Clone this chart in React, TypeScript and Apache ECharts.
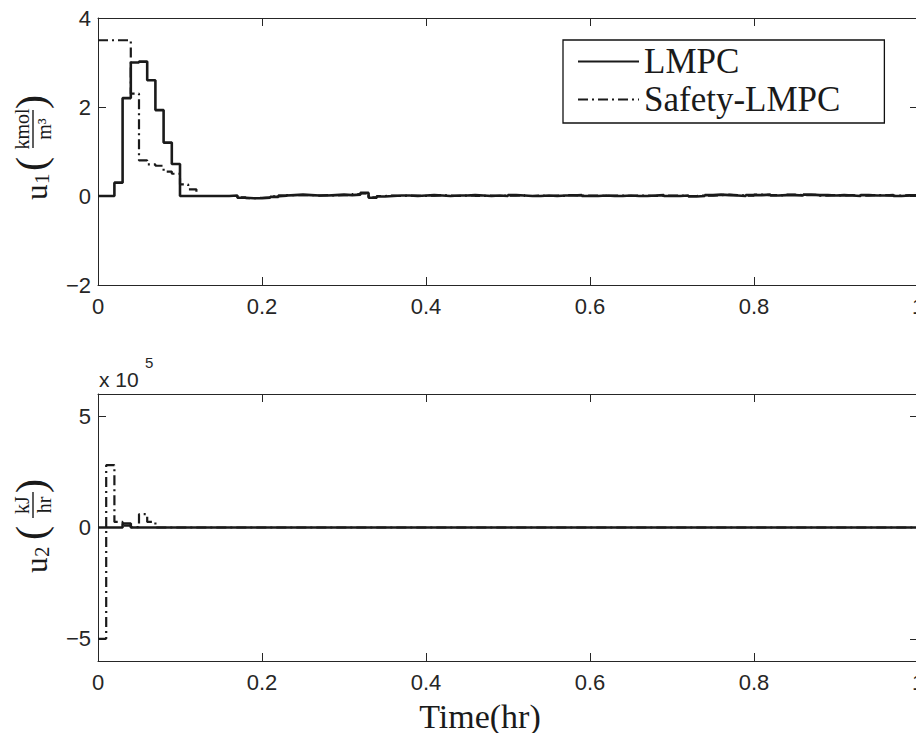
import React, { useEffect, useRef } from "react";
import * as echarts from "echarts";

// Sampling period of the zero-order-hold inputs (hr)
const SAMPLE_PERIOD = 0.01;
const X_TICKS = [0, 0.2, 0.4, 0.6, 0.8, 1];
const U1_TICKS = [-2, 0, 2, 4];
const U2_TICKS = [-500000, 0, 500000];

// u1 (kmol/m^3), one value per sampling period
const lmpcU1 = [
  0, 0, 0.3, 2.2, 3.0, 3.02, 2.6, 1.93, 1.2, 0.72,
  0, 0, 0, 0, 0, 0, 0.01, -0.04, -0.05, -0.05,
  -0.04, -0.02, 0.01, 0.02, 0.03, 0.02, 0.01, 0.01, 0.02, 0.03,
  0.02, 0.03, 0.07, -0.04, -0.01, 0.0, 0.01, 0.01, 0.0, 0.01,
  0.02, 0.01, 0.0, 0.01, 0.01, 0.02, 0.01, 0.0, 0.01, 0.0,
  0.02, 0.01, 0.0, 0.0, 0.01, 0.0, 0.01, 0.01, 0.02, 0.0,
  0.0, 0.01, 0.0, 0.0, 0.01, 0.0, 0.0, 0.01, 0.02, 0.0,
  0.0, 0.01, -0.01, 0.0, 0.02, 0.03, 0.02, 0.01, 0.0, 0.02,
  0.02, 0.03, 0.01, 0.02, 0.02, 0.01, 0.03, 0.02, 0.02, 0.01,
  0.02, 0.01, 0.0, 0.02, 0.01, 0.01, 0.02, 0.0, 0.01, 0.02,
];

const safetyU1 = [
  3.5, 3.5, 3.5, 3.5, 2.3, 0.8, 0.71, 0.68, 0.55, 0.5,
  0.26, 0.15, 0, 0, 0, 0, 0, -0.03, -0.05, -0.04,
  -0.03, -0.01, 0.0, 0.02, 0.02, 0.02, 0.01, 0.02, 0.01, 0.02,
  0.02, 0.04, 0.06, -0.03, 0.0, 0.01, 0.0, 0.01, 0.01, 0.0,
  0.01, 0.02, 0.01, 0.0, 0.01, 0.02, 0.0, 0.01, 0.0, 0.01,
  0.01, 0.02, 0.0, 0.01, 0.0, 0.01, 0.0, 0.02, 0.01, 0.01,
  0.01, 0.0, 0.01, 0.01, 0.0, 0.01, 0.01, 0.0, 0.01, 0.01,
  0.01, 0.0, 0.0, 0.01, 0.01, 0.02, 0.03, 0.02, 0.01, 0.01,
  0.03, 0.02, 0.02, 0.01, 0.03, 0.02, 0.02, 0.03, 0.01, 0.02,
  0.01, 0.02, 0.01, 0.01, 0.02, 0.02, 0.01, 0.01, 0.02, 0.01,
];

// u2 (kJ/hr), one value per sampling period
const lmpcU2 = [
  0, 0, 0, 18000, 0, 0, 0, 0, 0, 0,
  0, 0, 0, 0, 0, 0, 0, 0, 0, 0,
  0, 0, 0, 0, 0, 0, 0, 0, 0, 0,
  0, 0, 0, 0, 0, 0, 0, 0, 0, 0,
  0, 0, 0, 0, 0, 0, 0, 0, 0, 0,
  0, 0, 0, 0, 0, 0, 0, 0, 0, 0,
  0, 0, 0, 0, 0, 0, 0, 0, 0, 0,
  0, 0, 0, 0, 0, 0, 0, 0, 0, 0,
  0, 0, 0, 0, 0, 0, 0, 0, 0, 0,
  0, 0, 0, 0, 0, 0, 0, 0, 0, 0,
];

const safetyU2 = [
  -500000, 280000, 25000, 8000, 2000, 60000, 25000, 0, 0, 0,
  0, 0, 0, 0, 0, 0, 0, 0, 0, 0,
  0, 0, 0, 0, 0, 0, 0, 0, 0, 0,
  0, 0, 0, 0, 0, 0, 0, 0, 0, 0,
  0, 0, 0, 0, 0, 0, 0, 0, 0, 0,
  0, 0, 0, 0, 0, 0, 0, 0, 0, 0,
  0, 0, 0, 0, 0, 0, 0, 0, 0, 0,
  0, 0, 0, 0, 0, 0, 0, 0, 0, 0,
  0, 0, 0, 0, 0, 0, 0, 0, 0, 0,
  0, 0, 0, 0, 0, 0, 0, 0, 0, 0,
];

const SERIES_NAMES = ["LMPC", "Safety-LMPC"];

// zero-order hold: each value holds over [t_i, t_i + T); close at t = end
function holdPairs(values: number[]): [number, number][] {
  const pts: [number, number][] = values.map((v, i) => [
    Math.round(i * SAMPLE_PERIOD * 1000) / 1000,
    v,
  ]);
  pts.push([
    Math.round(values.length * SAMPLE_PERIOD * 1000) / 1000,
    values[values.length - 1],
  ]);
  return pts;
}

const INK = "#1a1a1a";
const AXIS_INK = "#262626";
const SANS = "Liberation Sans, Arial, sans-serif";
const SERIF = "Liberation Serif, Times New Roman, serif";

const minusFmt = (v: number) =>
  v < 0 ? "\u2212" + String(Math.abs(v)) : String(v);

function xAxes(gridIndex: number) {
  const common = {
    gridIndex,
    type: "value" as const,
    min: X_TICKS[0],
    max: X_TICKS[X_TICKS.length - 1],
    interval: 0.2,
    axisLine: { show: true, onZero: false, lineStyle: { color: AXIS_INK, width: 1 } },
    axisTick: { show: true, inside: true, length: 8, lineStyle: { color: AXIS_INK, width: 1 } },
    splitLine: { show: false },
  };
  return [
    {
      ...common,
      position: "bottom" as const,
      axisLabel: {
        show: true,
        margin: 10,
        fontFamily: SANS,
        fontSize: 22,
        color: AXIS_INK,
        formatter: (v: number) => String(Math.round(v * 10) / 10),
      },
    },
    { ...common, position: "top" as const, axisLabel: { show: false } },
  ];
}

function yAxes(gridIndex: number, min: number, max: number, ticks: number[], scale: number) {
  const tick = { show: true, inside: true, length: 8, lineStyle: { color: AXIS_INK, width: 1 }, customValues: ticks };
  const line = { show: true, onZero: false, lineStyle: { color: AXIS_INK, width: 1 } };
  return [
    {
      gridIndex,
      type: "value" as const,
      min,
      max,
      position: "left" as const,
      axisLine: line,
      axisTick: tick,
      splitLine: { show: false },
      axisLabel: {
        show: true,
        margin: 7,
        fontFamily: SANS,
        fontSize: 22,
        color: AXIS_INK,
        customValues: ticks,
        formatter: (v: number) => minusFmt(Math.round(v / scale)),
      },
    },
    {
      gridIndex,
      type: "value" as const,
      min,
      max,
      position: "right" as const,
      axisLine: line,
      axisTick: tick,
      splitLine: { show: false },
      axisLabel: { show: false },
    },
  ];
}

function yLabel(
  x: number,
  y: number,
  sub: string,
  num: string,
  den: string,
  parenL: number,
  fracC: number,
  fracHalf: number,
  parenR: number
) {
  const t = (text: string, lx: number, ly: number, size: number, align = "left") => ({
    type: "text",
    x: lx,
    y: ly,
    style: {
      text,
      fontFamily: SERIF,
      fontSize: size,
      fill: INK,
      align,
      verticalAlign: "middle",
    },
  });
  return {
    type: "group",
    x,
    y,
    rotation: Math.PI / 2,
    children: [
      t("u", 0, -9, 31),
      t(sub, 16, -3, 21),
      t("(", parenL, -14, 42),
      t(num, fracC, -23, 20, "center"),
      {
        type: "line",
        shape: { x1: fracC - fracHalf, y1: -12, x2: fracC + fracHalf, y2: -12 },
        style: { stroke: INK, lineWidth: 1.4 },
      },
      t(den, fracC, -1, 20, "center"),
      t(")", parenR, -14, 42),
    ],
  };
}

export default function App() {
  const ref = useRef<HTMLDivElement>(null);

  useEffect(() => {
    if (!ref.current) return;
    const chart = echarts.init(ref.current, undefined, { renderer: "svg" });

    const lineBase = {
      type: "line" as const,
      step: "end" as const,
      symbol: "none",
      showSymbol: false,
      silent: true,
      itemStyle: { color: INK },
    };
    const solid = { color: INK, width: 2.6, type: "solid" as const };
    const dashDot = { color: INK, width: 2.2, type: [10, 4, 2, 4] as number[] };

    chart.setOption({
      animation: false,
      backgroundColor: "#ffffff",
      grid: [
        { left: 98, top: 18, width: 820, height: 267 },
        { left: 98, top: 394, width: 820, height: 267 },
      ],
      xAxis: [...xAxes(0), ...xAxes(1)],
      yAxis: [
        ...yAxes(0, -2, 4, U1_TICKS, 1),
        ...yAxes(1, -600000, 600000, U2_TICKS, 100000),
      ],
      legend: {
        orient: "vertical",
        left: 563,
        top: 40,
        itemWidth: 61,
        itemHeight: 14,
        itemGap: 3,
        padding: [4, 44, 6, 14],
        borderColor: "#111",
        borderWidth: 1.3,
        backgroundColor: "#ffffff",
        selectedMode: false,
        itemStyle: { opacity: 0 },
        textStyle: { fontFamily: SERIF, fontSize: 35, color: INK, lineHeight: 35 },
        data: SERIES_NAMES,
      },
      series: [
        { ...lineBase, name: SERIES_NAMES[1], xAxisIndex: 0, yAxisIndex: 0, data: holdPairs(safetyU1), lineStyle: dashDot, z: 2 },
        { ...lineBase, name: SERIES_NAMES[0], xAxisIndex: 0, yAxisIndex: 0, data: holdPairs(lmpcU1), lineStyle: solid, z: 3 },
        { ...lineBase, name: SERIES_NAMES[1], xAxisIndex: 2, yAxisIndex: 2, data: holdPairs(safetyU2), lineStyle: dashDot, z: 2 },
        { ...lineBase, name: SERIES_NAMES[0], xAxisIndex: 2, yAxisIndex: 2, data: holdPairs(lmpcU2), lineStyle: solid, z: 3 },
      ],
      graphic: [
        yLabel(45, 200, "1", "kmol", "m\u00b3", 29, 71, 19, 91),
        yLabel(45, 573, "2", "kJ", "hr", 33, 68, 13, 80),
        {
          type: "text",
          x: 99,
          y: 379,
          style: { text: "x 10", fontFamily: SANS, fontSize: 21, fill: AXIS_INK, align: "left", verticalAlign: "middle" },
        },
        {
          type: "text",
          x: 145,
          y: 362,
          style: { text: "5", fontFamily: SANS, fontSize: 15, fill: AXIS_INK, align: "left", verticalAlign: "middle" },
        },
        {
          type: "text",
          x: 480,
          y: 716,
          style: { text: "Time(hr)", fontFamily: SERIF, fontSize: 34, fill: INK, align: "center", verticalAlign: "middle" },
        },
      ],
    });

    return () => chart.dispose();
  }, []);

  return (
    <div style={{ position: "fixed", left: 0, top: 0, width: 916, height: 733, overflow: "hidden", background: "#fff" }}>
      <div ref={ref} style={{ width: 940, height: 733 }} />
    </div>
  );
}
